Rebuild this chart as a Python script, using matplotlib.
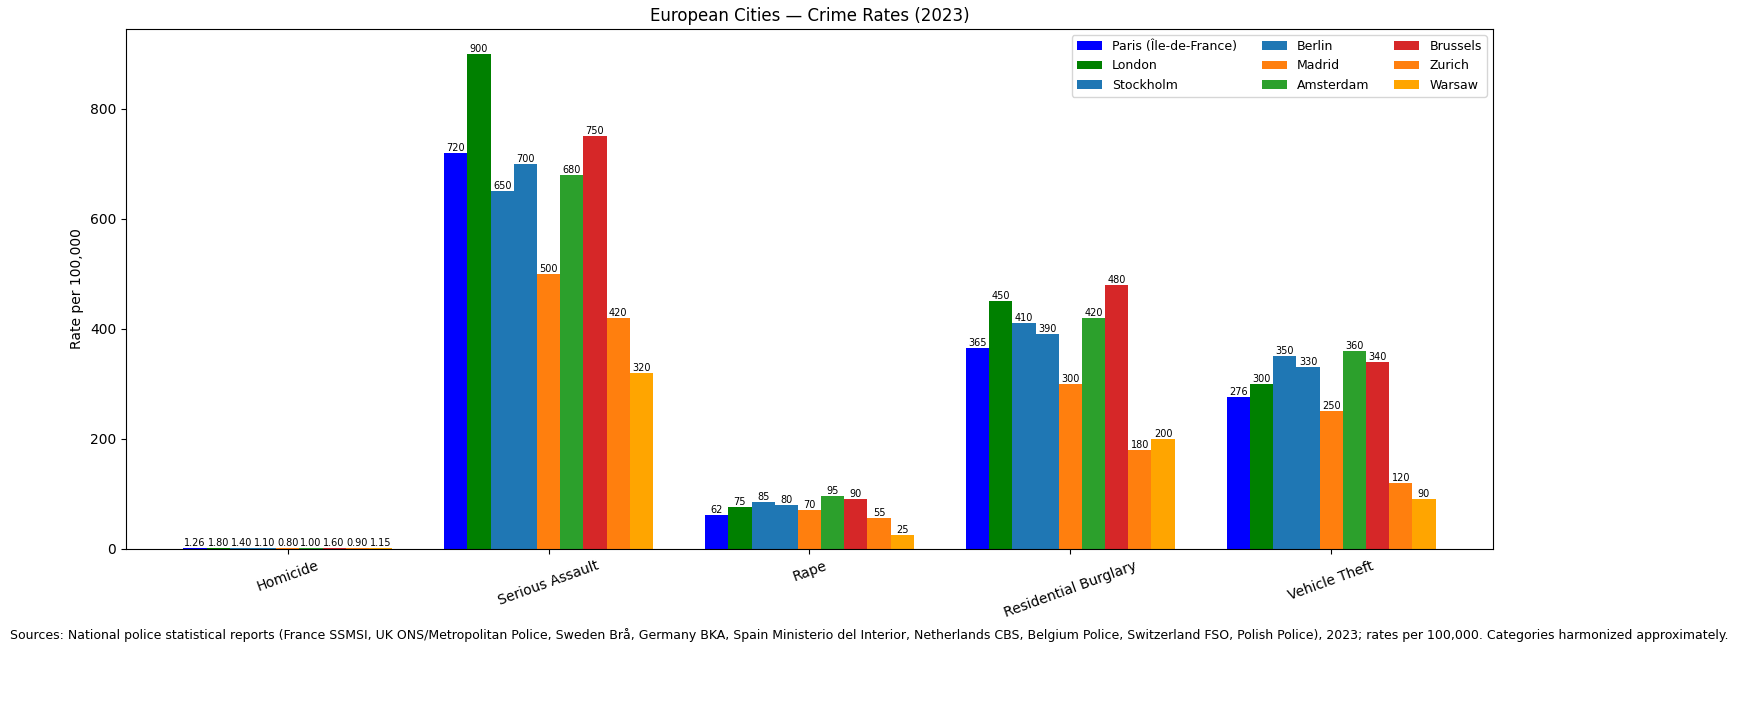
import matplotlib.pyplot as plt
import numpy as np

categories = ["Homicide", "Serious Assault", "Rape", "Residential Burglary", "Vehicle Theft"]
cities = ["Paris (Île-de-France)", "London", "Stockholm", "Berlin", "Madrid", "Amsterdam", "Brussels", "Zurich", "Warsaw"]
colors = ["blue", "green", "#1f77b4", "#1f77b4", "#ff7f0e", "#2ca02c", "#d62728", "#ff7f0e", "orange"]
paris = [1.26, 720, 62, 365, 276]
london = [1.80, 900, 75, 450, 300]
stockholm = [1.40, 650, 85, 410, 350]
berlin = [1.10, 700, 80, 390, 330]
madrid = [0.80, 500, 70, 300, 250]
amsterdam = [1.00, 680, 95, 420, 360]
brussels = [1.60, 750, 90, 480, 340]
zurich = [0.90, 420, 55, 180, 120]
warsaw = [1.15, 320, 25, 200, 90]
series = [paris, london, stockholm, berlin, madrid, amsterdam, brussels, zurich, warsaw]

fig, ax = plt.subplots(figsize=(17.38, 7.22), dpi=100)
fig.subplots_adjust(left=0.0725, right=0.859, top=0.96, bottom=0.24)
x = np.arange(len(categories))
n = len(series)
w = 0.8 / n
for i, (name, vals, c) in enumerate(zip(cities, series, colors)):
    pos = x - 0.4 + w / 2 + i * w
    bars = ax.bar(pos, vals, w, color=c, label=name)
    for b, v in zip(bars, vals):
        lab = f"{v:.2f}" if v < 10 else f"{v:.0f}"
        ax.text(b.get_x() + b.get_width() / 2, v, lab, ha="center", va="bottom", fontsize=7)
ax.set_xticks(x)
ax.set_xticklabels(categories, rotation=20)
ax.set_ylabel("Rate per 100,000")
ax.set_title("European Cities — Crime Rates (2023)")
ax.set_ylim(0, 945)
ax.set_xlim(-0.62, 4.62)
ax.legend(ncol=3, loc="upper right", fontsize=9)
fig.text(0.5, 0.115, "Sources: National police statistical reports (France SSMSI, UK ONS/Metropolitan Police, Sweden Brå, Germany BKA, Spain Ministerio del Interior, Netherlands CBS, Belgium Police, Switzerland FSO, Polish Police), 2023; rates per 100,000. Categories harmonized approximately.", ha="center", fontsize=9)
fig.savefig("out.png")
